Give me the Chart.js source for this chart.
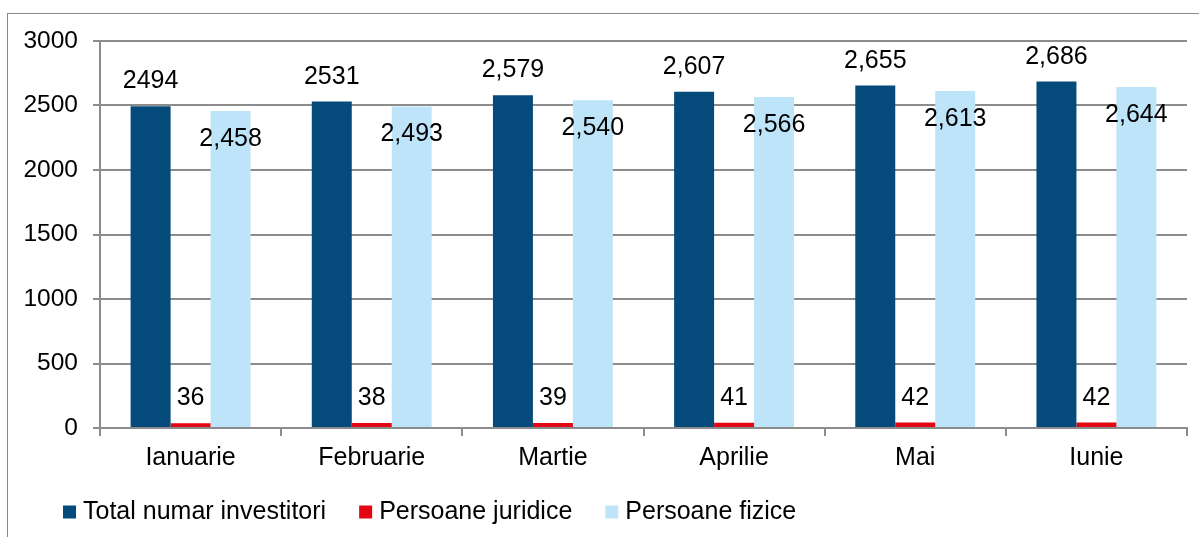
<!DOCTYPE html>
<html>
<head>
<meta charset="utf-8">
<script src="https://cdn.jsdelivr.net/npm/chart.js@4"></script>
<style>
    body { margin: 0; background: #fff; overflow: hidden; }
    #cadru { position: absolute; left: 7px; top: 13px; width: 1400px; height: 700px; border: 1.5px solid #8a8a8a; }
    #zona { position: absolute; left: 0; top: 0; width: 1199px; height: 537px; }
</style>
</head>
<body>
<div id="cadru"></div>
<div id="zona"><canvas id="graficInvestitori"></canvas></div>
<script>
/*global Chart*/

// Date
const luni = ["Ianuarie", "Februarie", "Martie", "Aprilie", "Mai", "Iunie"];
const totalInvestitori = [2494, 2531, 2579, 2607, 2655, 2686];
const persoaneJuridice = [36, 38, 39, 41, 42, 42];
const persoaneFizice = [2458, 2493, 2540, 2566, 2613, 2644];

// Etichetele asa cum apar pe bare
const eticheteTotal = ["2494", "2531", "2,579", "2,607", "2,655", "2,686"];
const eticheteJuridice = ["36", "38", "39", "41", "42", "42"];
const eticheteFizice = ["2,458", "2,493", "2,540", "2,566", "2,613", "2,644"];

const fontFamilie = "'Liberation Sans', Arial, sans-serif";
const culoareGri = "#8c8c8c";

// Etichete de valoare deasupra / in interiorul barelor
const pluginEtichete = {
    id: "etichete",
    afterDatasetsDraw(chart) {
        const ctx = chart.ctx;
        const toate = [eticheteTotal, eticheteJuridice, eticheteFizice];
        ctx.save();
        ctx.font = "25px " + fontFamilie;
        ctx.fillStyle = "#000";
        ctx.textAlign = "center";
        ctx.textBaseline = "alphabetic";
        chart.data.datasets.forEach((ds, i) => {
            const meta = chart.getDatasetMeta(i);
            meta.data.forEach((bara, j) => {
                const y = i === 2 ? bara.y + 35 : bara.y - 18;
                ctx.fillText(toate[i][j], bara.x, y);
            });
        });
        ctx.restore();
    }
};

// Legenda desenata manual, aliniata la stanga
const pluginLegenda = {
    id: "legendaJos",
    afterDraw(chart) {
        const ctx = chart.ctx;
        ctx.save();
        ctx.font = "25px " + fontFamilie;
        ctx.textBaseline = "middle";
        ctx.textAlign = "left";
        let x = 63;
        const y = 512;
        chart.data.datasets.forEach(ds => {
            ctx.fillStyle = ds.backgroundColor;
            ctx.fillRect(x, y - 6.5, 13, 13);
            x += 13 + 7;
            ctx.fillStyle = "#000";
            ctx.fillText(ds.label, x, y);
            x += ctx.measureText(ds.label).width + 33;
        });
        ctx.restore();
    }
};

const ctx = document.getElementById("graficInvestitori").getContext("2d");

new Chart(ctx, {
    type: "bar",
    data: {
        labels: luni,
        datasets: [
            { label: "Total numar investitori", data: totalInvestitori, backgroundColor: "#044a7b" },
            { label: "Persoane juridice", data: persoaneJuridice, backgroundColor: "#e30613" },
            { label: "Persoane fizice", data: persoaneFizice, backgroundColor: "#bde4f8" }
        ]
    },
    options: {
        responsive: true,
        maintainAspectRatio: false,
        animation: false,
        categoryPercentage: 0.662,
        barPercentage: 1,
        layout: {
            padding: { top: 41, right: 12, bottom: 59, left: 0 }
        },
        plugins: {
            legend: { display: false },
            tooltip: { enabled: false }
        },
        scales: {
            x: {
                afterFit(scale) { scale.height = 50; },
                grid: {
                    drawOnChartArea: false,
                    drawTicks: true,
                    tickLength: 8,
                    color: culoareGri,
                    lineWidth: 2
                },
                border: { color: culoareGri, width: 2 },
                ticks: {
                    color: "#000",
                    padding: 7,
                    font: { family: fontFamilie, size: 25 }
                }
            },
            y: {
                min: 0,
                max: 3000,
                afterFit(scale) { scale.width = 100; },
                grid: {
                    color: culoareGri,
                    lineWidth: 2,
                    tickLength: 7
                },
                border: { color: culoareGri, width: 2 },
                ticks: {
                    stepSize: 500,
                    color: "#000",
                    padding: 15,
                    font: { family: fontFamilie, size: 24.5 },
                    callback: (valoare) => String(valoare)
                }
            }
        }
    },
    plugins: [pluginEtichete, pluginLegenda]
});
</script>
</body>
</html>
